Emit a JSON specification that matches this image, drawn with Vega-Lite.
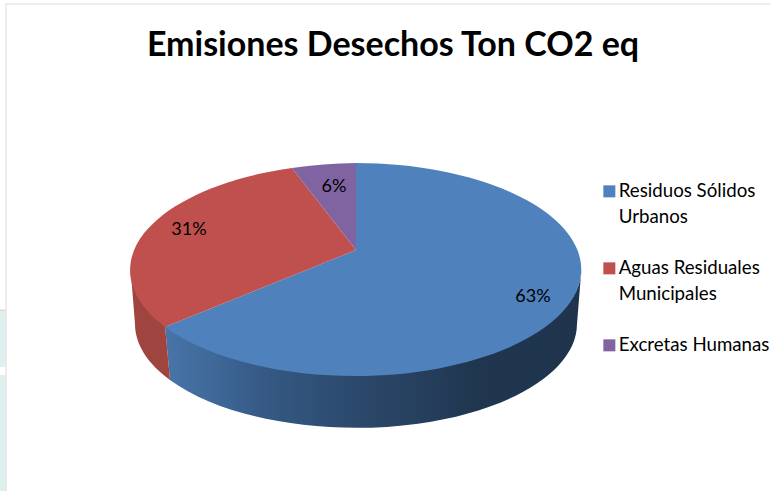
{
  "$schema": "https://vega.github.io/schema/vega-lite/v6.json",
  "autosize": {"type": "none"},
  "padding": {"left": 6, "top": 4, "right": 0, "bottom": 0},
  "width": 764,
  "height": 487,
  "background": "white",
  "view": {"stroke": null},
  "config": {"style": {"guide-label": {"lineHeight": 26}}},
  "title": {
    "text": "Emisiones Desechos Ton CO2 eq",
    "font": "Lato",
    "fontSize": 34,
    "fontWeight": "bold",
    "color": "#000000",
    "anchor": "middle",
    "frame": "group",
    "dx": 5,
    "baseline": "alphabetic",
    "offset": -86
  },
  "data": {
    "values": [
      {"fuente": "Residuos Sólidos Urbanos", "valor": 0.63},
      {"fuente": "Aguas Residuales Municipales", "valor": 0.31},
      {"fuente": "Excretas Humanas", "valor": 0.06}
    ]
  },
  "layer": [
    {
      "transform": [{"filter": "datum.valor == 0.63"}],
      "mark": {"type": "point", "filled": true, "opacity": 1, "size": 4, "strokeWidth": 0, "fill": "#dff1ef",
        "shape": "M-388,63.5 H-382.5 V119.5 H-388 Z M-388,127.5 H-382.5 V243.5 H-388 Z"},
      "encoding": {}
    },
    {
      "transform": [{"filter": "datum.valor == 0.63"}],
      "mark": {"type": "point", "filled": true, "opacity": 1, "size": 4, "strokeWidth": 0, "fill": "#d9d9d9",
        "shape": "M-382.5,-244 H382 V-243 H-381.5 V243.5 H-382.5 Z M-388,62 H-382.5 V63.5 H-388 Z"},
      "encoding": {}
    },
    {
      "transform": [{"filter": "datum.valor == 0.63"}],
      "mark": {"type": "point", "filled": true, "opacity": 1, "size": 4, "strokeWidth": 0,
        "shape": "M-223,78 A226,106.5 0 0 0 193.5,20.5 L189,76.5 A221,104 0 0 1 -218,132.5 Z",
        "fill": {"gradient": "linear", "x1": 0, "x2": 1, "y1": 0, "y2": 0, "stops": [
          {"offset": 0, "color": "#4874a8"},
          {"offset": 0.12, "color": "#3f6898"},
          {"offset": 0.23, "color": "#355a85"},
          {"offset": 0.5, "color": "#2a4668"},
          {"offset": 0.75, "color": "#20364f"},
          {"offset": 1, "color": "#1f334d"}
        ]}},
      "encoding": {}
    },
    {
      "transform": [{"filter": "datum.valor == 0.31"}],
      "mark": {"type": "point", "filled": true, "opacity": 1, "size": 4, "strokeWidth": 0, "fill": "#a0443f",
        "shape": "M-257.5,20.5 A226,106.5 0 0 0 -223,78 L-218,132.5 A221,104 0 0 1 -253,76.5 Z"},
      "encoding": {}
    },
    {
      "mark": {"type": "square", "opacity": 1, "size": 1, "strokeWidth": 0},
      "encoding": {
        "color": {
          "field": "fuente",
          "type": "nominal",
          "scale": {
            "domain": ["Residuos Sólidos Urbanos", "Aguas Residuales Municipales", "Excretas Humanas"],
            "range": ["#4f81bd", "#c0504d", "#8064a2"]
          },
          "legend": {
            "title": null,
            "orient": "none",
            "legendX": 594,
            "legendY": 178,
            "symbolType": "square",
            "symbolSize": 144,
            "symbolStrokeWidth": 0,
            "labelFont": "Lato",
            "labelFontSize": 18.7,
            "labelColor": "#000000",
            "labelLimit": 200,
            "rowPadding": 31,
            "labelOffset": 0,
            "labelExpr": "datum.label == 'Excretas Humanas' ? datum.label : datum.label == 'Residuos Sólidos Urbanos' ? ['Residuos Sólidos', 'Urbanos'] : ['Aguas Residuales', 'Municipales']"
          }
        }
      }
    },
    {
      "transform": [{"filter": "datum.valor == 0.63"}],
      "mark": {"type": "point", "filled": true, "opacity": 1, "size": 4, "strokeWidth": 0, "fill": "#4f81bd",
        "shape": "M-32,2.5 L-32,-84.5 A226,106.5 0 1 1 -223,79.5 Z"},
      "encoding": {}
    },
    {
      "transform": [{"filter": "datum.valor == 0.31"}],
      "mark": {"type": "point", "filled": true, "opacity": 1, "size": 4, "strokeWidth": 0, "fill": "#c0504d",
        "shape": "M-32,2.5 L-223,79.5 A226,106.5 0 0 1 -96,-79.5 Z"},
      "encoding": {}
    },
    {
      "transform": [{"filter": "datum.valor == 0.06"}],
      "mark": {"type": "point", "filled": true, "opacity": 1, "size": 4, "strokeWidth": 0, "fill": "#8064a2",
        "shape": "M-32,2.5 L-96,-79.5 A226,106.5 0 0 1 -32,-84.5 Z"},
      "encoding": {}
    },
    {
      "transform": [{"filter": "datum.valor == 0.63"}],
      "mark": {"type": "text", "font": "Lato", "fontSize": 18, "color": "#000000", "dx": 145, "dy": 49, "baseline": "middle"},
      "encoding": {"text": {"field": "valor", "type": "quantitative", "format": ".0%"}}
    },
    {
      "transform": [{"filter": "datum.valor == 0.31"}],
      "mark": {"type": "text", "font": "Lato", "fontSize": 18, "color": "#000000", "dx": -199, "dy": -18, "baseline": "middle"},
      "encoding": {"text": {"field": "valor", "type": "quantitative", "format": ".0%"}}
    },
    {
      "transform": [{"filter": "datum.valor == 0.06"}],
      "mark": {"type": "text", "font": "Lato", "fontSize": 18, "color": "#000000", "dx": -54, "dy": -61, "baseline": "middle"},
      "encoding": {"text": {"field": "valor", "type": "quantitative", "format": ".0%"}}
    }
  ]
}
